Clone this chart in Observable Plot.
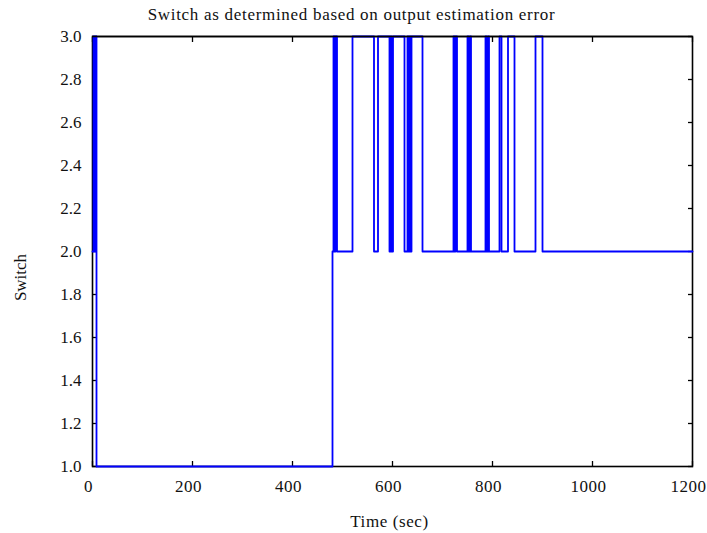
<!DOCTYPE html>
<html><head><meta charset="utf-8">
<script src="https://cdn.jsdelivr.net/npm/d3@7"></script>
<script src="https://cdn.jsdelivr.net/npm/@observablehq/plot@0.6"></script>
<style>body{margin:0;background:#fff} svg{display:block}</style>
</head><body><div id="chart"></div>
<script>
const title = "Switch as determined based on output estimation error";
const xLabel = "Time (sec)";
const yLabel = "Switch";
const xTicks = [0, 200, 400, 600, 800, 1000, 1200];
const yTicks = [1.0, 1.2, 1.4, 1.6, 1.8, 2.0, 2.2, 2.4, 2.6, 2.8, 3.0];
// times at which the switch changes, and the value it takes from that time on
const switchTimes = [0, 2, 4, 6, 8, 480, 482, 484, 486, 489, 520, 563, 571, 594, 596, 598, 601, 624, 630, 632, 634, 636, 638, 660,
  722, 724, 726, 729, 750, 752, 755, 757, 786, 788, 791, 793, 814, 818, 831, 844, 886, 900, 1200];
const switchValues = [2, 3, 2, 3, 1, 2, 3, 2, 3, 2, 3, 2, 3, 2, 3, 2, 3, 2, 3, 2, 3, 2, 3, 2,
  3, 2, 3, 2, 3, 2, 3, 2, 3, 2, 3, 2, 3, 2, 3, 2, 3, 2, 2];
const data = switchTimes.map((t, i) => ({t, v: switchValues[i]}));
const font = "'Liberation Serif', 'Times New Roman', serif";
const blank = () => "";
const chart = Plot.plot({
  width: 707, height: 533,
  marginLeft: 92, marginRight: 15, marginTop: 36, marginBottom: 67,
  style: {fontFamily: font, fontSize: "17px", color: "#111", background: "white"},
  x: {domain: [0, 1200]},
  y: {domain: [1, 3]},
  marks: [
    Plot.frame({stroke: "black", strokeWidth: 1.6}),
    Plot.axisX(xTicks, {anchor: "bottom", tickSize: -5, tickFormat: blank, label: null, stroke: "black", strokeWidth: 1.3}),
    Plot.axisX(xTicks, {anchor: "bottom", tickSize: 0, tickPadding: 13, label: null, tickFormat: d => String(d), fontSize: 17, dx: -4}),
    Plot.axisX(xTicks, {anchor: "top", tickSize: -5, tickFormat: blank, label: null, stroke: "black", strokeWidth: 1.3}),
    Plot.axisY(yTicks, {anchor: "left", tickSize: -5, tickPadding: 16, label: null, tickFormat: d => d.toFixed(1), stroke: "black", strokeWidth: 1.3, fontSize: 17}),
    Plot.axisY(yTicks, {anchor: "right", tickSize: -5, tickFormat: blank, label: null, stroke: "black", strokeWidth: 1.3}),
    Plot.line(data, {x: "t", y: "v", curve: "step-after", stroke: "#0000ff", strokeWidth: 1.8}),
    Plot.ruleY([3], {stroke: "black", strokeWidth: 1.6}),
    Plot.text([title], {frameAnchor: "top", lineAnchor: "middle", dx: -41, dy: -22, fontSize: 17, fill: "#111"}),
    Plot.text([xLabel], {frameAnchor: "bottom", lineAnchor: "middle", dx: -3, dy: 55, fontSize: 17, fill: "#111"}),
    Plot.text([yLabel], {frameAnchor: "left", textAnchor: "middle", lineAnchor: "middle", rotate: -90, dx: -72, dy: 26, fontSize: 17, fill: "#111"})
  ]
});
const spacing = new Map([[title, "0.7px"], [xLabel, "0.6px"]]);
xTicks.forEach(t => spacing.set(String(t), "0.5px"));
chart.querySelectorAll("text").forEach(el => {
  const s = spacing.get(el.textContent);
  if (s) { el.setAttribute("letter-spacing", s); el.style.letterSpacing = s; }
});
document.getElementById("chart").append(chart);
</script>
</body></html>
